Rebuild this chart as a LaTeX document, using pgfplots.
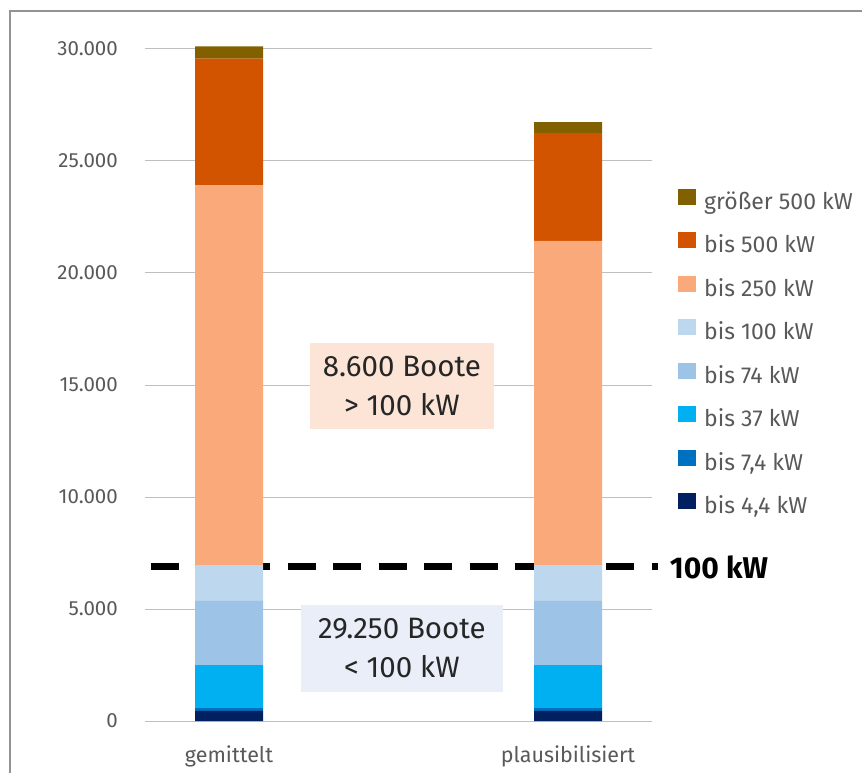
\documentclass[border=0pt]{standalone}
\usepackage{fontspec}
\setmainfont{Fira Sans}
\usepackage{pgfplots}
\pgfplotsset{compat=1.18}
\definecolor{cA}{HTML}{002060}
\definecolor{cB}{HTML}{0070C0}
\definecolor{cC}{HTML}{00B0F0}
\definecolor{cD}{HTML}{9DC3E6}
\definecolor{cE}{HTML}{BDD7EE}
\definecolor{cF}{HTML}{FAAA7A}
\definecolor{cG}{HTML}{D35400}
\definecolor{cH}{HTML}{826000}
\definecolor{txt}{HTML}{595959}
\definecolor{grid}{HTML}{D9D9D9}
\definecolor{boxO}{HTML}{FCE4D6}
\definecolor{boxB}{HTML}{E9EEF8}
\begin{document}
\begin{tikzpicture}[x=1pt,y=1pt]
\useasboundingbox (0,0) rectangle (862,772);
\draw[color=gray!85, line width=1.5pt] (10,-2) -- (10,761) -- (864,761);
\begin{axis}[
  at={(145pt,51pt)}, anchor=south west,
  scale only axis, width=507pt, height=672pt,
  ybar stacked, bar width=68pt,
  xmin=-0.2478, xmax=1.2478, ymin=0, ymax=30000,
  clip=false,
  axis line style={draw=none},
  major tick length=0pt,
  tick style={draw=none},
  xtick pos=bottom, ytick pos=left,
  xmajorgrids=false,
  ymajorgrids, grid style={grid, line width=1pt},
  ytick={0,5000,10000,15000,20000,25000,30000},
  xtick={0,1}, xticklabels={gemittelt,plausibilisiert},
  scaled y ticks=false,
  /pgf/number format/.cd, 1000 sep={.}, fixed, assume math mode=true,
  /pgfplots/.cd,
  yticklabel style={font=\fontsize{20.5}{24}\selectfont, text=txt, anchor=east, inner sep=0pt, xshift=-27pt},
  xticklabel style={font=\fontsize{21.5}{24}\selectfont, text=txt, anchor=north, inner sep=0pt, yshift=-25pt},
  legend style={at={(1.0454,0.795)}, anchor=north west, draw=none, fill=none,
    font=\fontsize{23}{26}\selectfont, text=txt,
    nodes={inner sep=0pt, text height=16pt, text depth=5pt},
    row sep=18pt,
    /tikz/every odd column/.style={column sep=8.5pt}},
  legend cell align=left,
  reverse legend,
  legend image code/.code={\fill[#1] (0pt,-1pt) rectangle (17.5pt,15pt);},
]
\addplot[fill=cA, draw=none] coordinates {(0,450) (1,450)};
\addplot[fill=cB, draw=none] coordinates {(0,120) (1,120)};
\addplot[fill=cC, draw=none] coordinates {(0,1930) (1,1930)};
\addplot[fill=cD, draw=none] coordinates {(0,2860) (1,2860)};
\addplot[fill=cE, draw=none] coordinates {(0,1600) (1,1600)};
\addplot[fill=cF, draw=none] coordinates {(0,16960) (1,14470)};
\addplot[fill=cG, draw=none] coordinates {(0,5650) (1,4810)};
\addplot[fill=cH, draw=none] coordinates {(0,550) (1,490)};
\legend{bis 4{,}4 kW, bis 7{,}4 kW, bis 37 kW, bis 74 kW, bis 100 kW, bis 250 kW, bis 500 kW, größer 500 kW}
\draw[black, line width=7pt, dash pattern=on 28pt off 17.5pt] (axis cs:-0.2301,6880) -- (axis cs:1.2655,6880);
\node[anchor=west, font=\fontsize{30}{32}\selectfont\bfseries, text=black, inner sep=0pt] at (axis cs:1.3,6880) {100 kW};
\node[fill=boxO, minimum width=184pt, minimum height=86pt, align=center, inner sep=0pt, font=\fontsize{29.5}{39}\selectfont, text=black!85] at (axis cs:0.51,14955) {8.600 Boote\\> 100 kW};
\node[fill=boxB, minimum width=202pt, minimum height=87pt, align=center, inner sep=0pt, font=\fontsize{29.5}{39}\selectfont, text=black!85] at (axis cs:0.51,3237) {29.250 Boote\\< 100 kW};
\end{axis}
\end{tikzpicture}
\end{document}
